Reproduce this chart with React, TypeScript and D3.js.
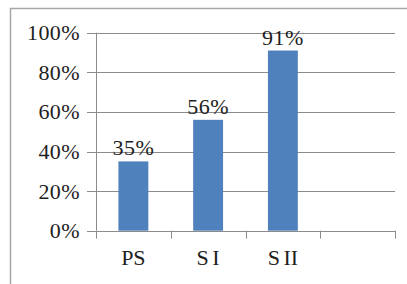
import React, { useEffect, useRef } from "react";
import * as d3 from "d3";

const categories = ["PS", "S I", "S II", ""];
const values = [35, 56, 91, null];
const yTicks = [0, 20, 40, 60, 80, 100];

export default function App() {
  const svgRef = useRef<SVGSVGElement>(null);

  useEffect(() => {
    if (!svgRef.current) return;
    const width = 407;
    const height = 284;
    const left = 96;
    const right = 395;
    const top = 32.7;
    const bottom = 230.7;
    const font = "'Liberation Serif', serif";
    const fontSize = "22px";

    const svg = d3.select(svgRef.current);
    svg.selectAll("*").remove();
    svg.attr("width", width).attr("height", height);

    svg.append("rect").attr("width", width).attr("height", height).attr("fill", "#fff");

    // frame (only top and left visible)
    svg.append("path")
      .attr("d", `M10.5,${height} V8.5 H${width}`)
      .attr("fill", "none")
      .attr("stroke", "#a6a6a6")
      .attr("stroke-width", 1.5);

    const x = d3.scaleBand<string>()
      .domain(categories.map((c, i) => String(i)))
      .range([left, right])
      .paddingInner(0.6)
      .paddingOuter(0.3);

    const y = d3.scaleLinear().domain([0, 100]).range([bottom, top]);

    // gridlines and y ticks
    const grid = svg.append("g");
    yTicks.forEach(t => {
      grid.append("line")
        .attr("x1", left - 9)
        .attr("x2", right)
        .attr("y1", Math.round(y(t)) + 0.5)
        .attr("y2", Math.round(y(t)) + 0.5)
        .attr("stroke", "#8c8c8c")
        .attr("stroke-width", 1);
      grid.append("text")
        .attr("x", 80)
        .attr("y", y(t))
        .attr("dy", "0.34em")
        .attr("text-anchor", "end")
        .style("font-family", font)
        .style("font-size", fontSize)
        .style("letter-spacing", "0.4px")
        .attr("fill", "#1e1e1e")
        .text(`${t}%`);
    });

    // y axis line
    svg.append("line")
      .attr("x1", left + 0.5).attr("x2", left + 0.5)
      .attr("y1", top).attr("y2", bottom)
      .attr("stroke", "#8c8c8c");

    // x category ticks
    const step = (right - left) / categories.length;
    d3.range(categories.length + 1).forEach(i => {
      const xx = Math.round(left + i * step) + 0.5;
      svg.append("line")
        .attr("x1", xx).attr("x2", xx)
        .attr("y1", bottom).attr("y2", bottom + 8)
        .attr("stroke", "#8c8c8c");
    });

    // bars
    values.forEach((v, i) => {
      if (v == null) return;
      const bx = x(String(i))!;
      svg.append("rect")
        .attr("x", bx)
        .attr("y", y(v))
        .attr("width", x.bandwidth())
        .attr("height", bottom - y(v))
        .attr("fill", "#4f81bd");
      svg.append("text")
        .attr("x", bx + x.bandwidth() / 2)
        .attr("y", y(v) - 6)
        .attr("text-anchor", "middle")
        .style("font-family", font)
        .style("font-size", fontSize)
        .style("letter-spacing", "0.4px")
        .attr("fill", "#1e1e1e")
        .text(`${v}%`);
    });

    // x labels
    categories.forEach((c, i) => {
      svg.append("text")
        .attr("x", x(String(i))! + x.bandwidth() / 2)
        .attr("y", 265)
        .attr("text-anchor", "middle")
        .style("font-family", font)
        .style("font-size", fontSize)
        .style("word-spacing", "-2px")
        .attr("fill", "#1e1e1e")
        .text(c);
    });
  }, []);

  return (
    <svg ref={svgRef} style={{ position: "absolute", left: 0, top: 0 }}></svg>
  );
}
